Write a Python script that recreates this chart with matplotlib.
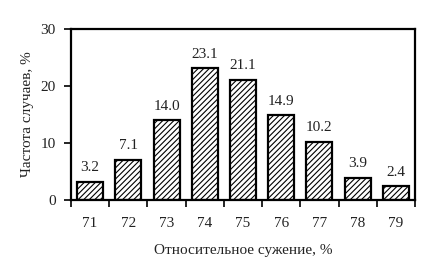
import numpy as np
import matplotlib
matplotlib.use('Agg')
import matplotlib.pyplot as plt

# narrowing (%) categories and how often each occurred
categories = ['71', '72', '73', '74', '75', '76', '77', '78', '79']
frequency = [3.2, 7.1, 14.0, 23.1, 21.1, 14.9, 10.2, 3.9, 2.4]

plt.rcParams['font.family'] = ['Liberation Serif', 'DejaVu Serif']
plt.rcParams['hatch.linewidth'] = 0.8

fig = plt.figure(figsize=(4.30, 2.78), dpi=100)
ax = fig.add_axes([71/430, 1 - 200/278, (415-71)/430, (200-29)/278])

x = np.arange(len(categories))
bars = ax.bar(x, frequency, width=0.68, color='white', edgecolor='black',
              linewidth=1.6, hatch='//////')

for xi, v in zip(x, frequency):
    ax.text(xi, v + 1.3, '%.1f' % v, ha='center', va='bottom', fontsize=11,
            color='#222222')

ax.set_xlim(-0.5, len(categories) - 0.5)
ax.set_ylim(0, 30)
ax.set_yticks([0, 10, 20, 30])

# category labels sit between the ticks, ticks mark the boundaries
ax.set_xticks(np.arange(-0.5, len(categories)), minor=False)
ax.set_xticklabels([])
ax.set_xticks(x, minor=True)
ax.set_xticklabels(categories, minor=True)
ax.tick_params(axis='x', which='major', direction='out', length=5, width=1.2)
ax.tick_params(axis='x', which='minor', length=0, pad=12, labelsize=11,
               labelcolor='#222222')
ax.tick_params(axis='y', direction='out', length=5, width=1.2, labelsize=11,
               pad=6, labelcolor='#222222')

for s in ax.spines.values():
    s.set_linewidth(1.6)

ax.set_ylabel('Частота случаев, %', fontsize=11, labelpad=5, color='#222222')
ax.set_xlabel('Относительное сужение, %', fontsize=11, labelpad=10,
              color='#222222')

fig.savefig('out.png', dpi=100)
